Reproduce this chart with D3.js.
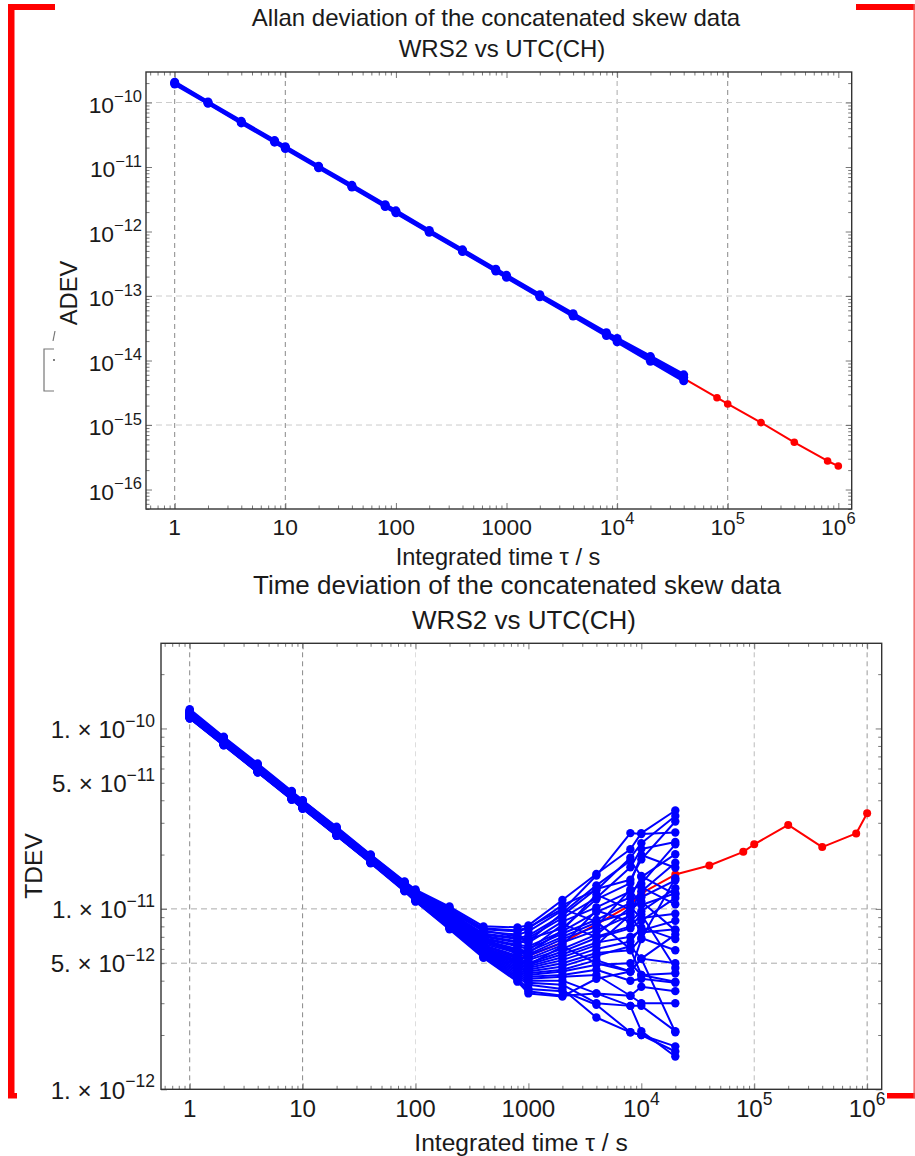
<!DOCTYPE html>
<html><head><meta charset="utf-8">
<script src="https://cdn.jsdelivr.net/npm/d3@7"></script>
<style>
body{margin:0;background:#fff}
svg{display:block}
text{font-family:"Liberation Sans",Arial,sans-serif;fill:#1a1a1a}
</style>
</head><body>
<svg id="c" width="915" height="1156"></svg>
<script>
// ---------------- DATA ----------------
const titleTop = "Allan deviation of the concatenated skew data";
const titleBottom = "Time deviation of the concatenated skew data";
const subtitle = "WRS2 vs UTC(CH)";
const xAxisLabel = "Integrated time \u03C4 / s";
const yLabelTop = "ADEV";
const yLabelBottom = "TDEV";

const xTicks = [1, 10, 100, 1000, 1e4, 1e5, 1e6];
const xTickLabels = ["1", "10", "100", "1000", "10|4", "10|5", "10|6"];
const yTicksTop = [1e-10, 1e-11, 1e-12, 1e-13, 1e-14, 1e-15, 1e-16];
const yTickLabelsTop = ["10|\u221210", "10|\u221211", "10|\u221212", "10|\u221213", "10|\u221214", "10|\u221215", "10|\u221216"];
const yTicksBottom = [1e-10, 5e-11, 1e-11, 5e-12, 1e-12];
const yTickLabelsBottom = ["1. \u00D7 10|\u221210", "5. \u00D7 10|\u221211", "1. \u00D7 10|\u221211", "5. \u00D7 10|\u221212", "1. \u00D7 10|\u221212"];

// averaging times
const tausShort = [1, 2, 4, 8, 10, 20, 40, 80, 100, 200, 400, 800, 1000, 2000, 4000, 8000, 10000, 20000, 40000];
const tausLong = [1, 2, 4, 8, 10, 20, 40, 80, 100, 200, 400, 800, 1000, 2000, 4000, 8000, 10000, 20000, 40000, 80000, 100000, 200000, 400000, 800000, 1000000];
const tausTdev = [1, 2, 4, 8, 10, 20, 40, 80, 100, 200, 400, 800, 1000, 2000, 4000, 8000, 10000, 20000];

// ADEV, individual segments (blue)
const adevBlue1 = [2.07e-10, 1.02e-10, 5.1e-11, 2.57e-11, 2.06e-11, 1.03e-11, 5.2e-12, 2.6e-12, 2.09e-12, 1.04e-12, 5.2e-13, 2.6e-13, 2.09e-13, 1.05e-13, 5.3e-14, 2.7e-14, 2.2e-14, 1.15e-14, 6.0e-15];
const adevBlue2 = [2.0e-10, 9.95e-11, 4.95e-11, 2.5e-11, 2.0e-11, 1.0e-11, 5.02e-12, 2.51e-12, 2.01e-12, 1.0e-12, 5.0e-13, 2.5e-13, 2.0e-13, 1.0e-13, 5.05e-14, 2.57e-14, 2.07e-14, 1.07e-14, 5.5e-15];
const adevBlue3 = [1.94e-10, 9.7e-11, 4.83e-11, 2.43e-11, 1.94e-11, 9.75e-12, 4.88e-12, 2.44e-12, 1.95e-12, 9.75e-13, 4.88e-13, 2.44e-13, 1.95e-13, 9.75e-14, 4.88e-14, 2.44e-14, 1.95e-14, 9.75e-15, 4.85e-15];
// ADEV, concatenated (red)
const adevRed = [2.0e-10, 9.95e-11, 4.95e-11, 2.5e-11, 2.0e-11, 1.0e-11, 5.0e-12, 2.5e-12, 2.0e-12, 1.0e-12, 5.0e-13, 2.5e-13, 2.0e-13, 1.0e-13, 5.0e-14, 2.55e-14, 2.05e-14, 1.05e-14, 5.3e-15, 2.65e-15, 2.12e-15, 1.09e-15, 5.4e-16, 2.77e-16, 2.31e-16];

// TDEV, individual segments (blue), in picoseconds
const tdevBluePs = [
  [128, 90, 64, 45, 40, 28.5, 20, 14.2, 12.8, 10.3, 8.0, 7.9, 8.1, 11.2, 15.6, 21.4, 26.3, 35.1],
  [126, 89, 63, 44.5, 39.8, 28, 19.8, 14, 12.5, 10, 7.7, 7.5, 7.8, 10.5, 12.7, 19.2, 23.1, 32.7],
  [125, 88, 62.5, 44, 39.5, 27.8, 19.6, 13.8, 12.4, 9.8, 7.5, 7.2, 7.5, 9.8, 15.3, 26.3, 26.0, 26.5],
  [124, 88, 62, 44, 39, 27.6, 19.5, 13.8, 12.3, 9.6, 7.3, 6.9, 7.1, 9.2, 12.9, 14.5, 18.8, 30.5],
  [123, 87, 61.5, 43.5, 39, 27.5, 19.4, 13.7, 12.3, 9.5, 7.2, 6.8, 6.9, 8.9, 11.5, 17, 21.5, 23.5],
  [122, 87, 61, 43.2, 38.6, 27.3, 19.3, 13.6, 12.2, 9.4, 7.1, 6.6, 6.5, 8.5, 10.2, 12.5, 13.8, 22.8],
  [122, 86, 61, 43, 38.5, 27.2, 19.2, 13.6, 12.1, 9.3, 7.0, 6.5, 6.8, 7.8, 11.3, 13.9, 19.9, 16.9],
  [121, 86, 60.5, 42.8, 38.3, 27.1, 19.1, 13.5, 12.1, 9.2, 6.9, 6.3, 6.2, 7.5, 9.6, 11.6, 15.0, 20.1],
  [121, 85.5, 60.5, 42.7, 38.2, 27, 19, 13.5, 12, 9.1, 6.8, 6.2, 6.0, 7.3, 8.7, 10.8, 12.5, 18.0],
  [120, 85, 60, 42.5, 38, 26.9, 19, 13.4, 12, 9.0, 6.7, 6.0, 5.8, 7.0, 8.4, 9.6, 11.6, 14.4],
  [120, 85, 60, 42.4, 37.9, 26.8, 18.9, 13.4, 11.9, 8.9, 6.6, 5.9, 5.6, 6.8, 8.0, 12.8, 10.5, 12.2],
  [119.5, 84.5, 59.8, 42.3, 37.8, 26.7, 18.9, 13.3, 11.9, 8.8, 6.5, 5.8, 5.5, 6.5, 7.6, 9.2, 13.2, 10.6],
  [119, 84, 59.5, 42.1, 37.6, 26.6, 18.8, 13.3, 11.8, 8.7, 6.4, 5.7, 5.3, 6.3, 9.8, 8.5, 9.7, 13.0],
  [119, 84, 59.3, 42, 37.5, 26.5, 18.7, 13.2, 11.8, 8.7, 6.3, 5.5, 5.2, 6.0, 7.2, 10.2, 8.9, 9.4],
  [118.5, 83.8, 59.2, 41.9, 37.4, 26.4, 18.7, 13.2, 11.7, 8.6, 6.2, 5.4, 5.0, 5.8, 6.9, 7.8, 8.6, 11.5],
  [118, 83.5, 59, 41.7, 37.3, 26.4, 18.6, 13.1, 11.7, 8.5, 6.1, 5.3, 4.9, 5.6, 6.5, 7.0, 7.6, 8.6],
  [118, 83.3, 58.9, 41.6, 37.2, 26.3, 18.6, 13.1, 11.6, 8.5, 6.0, 5.2, 4.8, 5.4, 6.3, 9.3, 7.4, 7.7],
  [117.5, 83, 58.7, 41.5, 37.1, 26.2, 18.5, 13, 11.6, 8.4, 5.95, 5.1, 4.7, 5.2, 6.0, 6.6, 7.9, 6.8],
  [117, 82.8, 58.5, 41.4, 37, 26.1, 18.5, 13, 11.5, 8.3, 5.9, 5.0, 4.6, 5.0, 5.7, 5.9, 6.9, 5.9],
  [117, 82.6, 58.4, 41.3, 36.9, 26, 18.4, 12.9, 11.5, 8.3, 5.85, 4.9, 4.5, 4.8, 5.5, 6.2, 5.3, 7.2],
  [116.5, 82.4, 58.2, 41.2, 36.8, 26, 18.4, 12.9, 11.4, 8.2, 5.8, 4.8, 4.4, 4.6, 5.2, 4.5, 5.3, 5.0],
  [116, 82.2, 58.1, 41.1, 36.7, 25.9, 18.3, 12.9, 11.4, 8.2, 5.75, 4.7, 4.3, 4.5, 4.9, 5.0, 4.3, 4.4],
  [116, 82, 58, 41, 36.6, 25.8, 18.3, 12.8, 11.3, 8.1, 5.7, 4.6, 4.2, 4.3, 4.6, 4.0, 4.1, 3.9],
  [115.5, 81.8, 57.8, 40.9, 36.5, 25.8, 18.2, 12.8, 11.3, 8.1, 5.65, 4.5, 4.1, 4.2, 4.3, 3.3, 3.7, 3.5],
  [115, 81.6, 57.7, 40.8, 36.4, 25.7, 18.2, 12.7, 11.2, 8.0, 5.6, 4.4, 4.0, 4.0, 3.4, 3.3, 3.0, 3.0],
  [115, 81.4, 57.5, 40.7, 36.3, 25.6, 18.1, 12.7, 11.2, 8.0, 5.55, 4.3, 3.9, 3.8, 3.0, 2.9, 2.9, 2.1],
  [114.5, 81.2, 57.4, 40.6, 36.2, 25.6, 18.1, 12.6, 11.1, 7.9, 5.5, 4.2, 3.8, 3.6, 2.5, 2.07, 2.0, 1.73],
  [114, 81, 57.3, 40.5, 36.1, 25.5, 18, 12.6, 11.1, 7.9, 5.45, 4.1, 3.6, 3.5, 2.94, 2.07, 2.0, 1.62],
  [114, 80.8, 57.2, 40.4, 36, 25.4, 18, 12.6, 11, 7.8, 5.4, 4.0, 3.5, 3.3, 3.4, 2.9, 2.1, 1.52],
  [113.5, 80.6, 57, 40.3, 35.9, 25.4, 17.9, 12.5, 11, 7.7, 5.35, 3.95, 3.4, 3.27, 4.1, 4.5, 5.3, 2.07],
  [124, 87.5, 62, 43.8, 39.2, 27.7, 19.5, 13.8, 12.3, 9.7, 7.6, 7.0, 6.6, 9.5, 13.5, 18.5, 15.2, 12.0],
  [121, 86, 60.8, 43, 38.4, 27.2, 19.2, 13.6, 12.1, 9.1, 6.9, 5.6, 5.9, 8.2, 7.0, 8.0, 9.3, 4.7],
  [119, 84, 59.5, 42, 37.6, 26.6, 18.8, 13.2, 11.7, 8.6, 6.2, 5.0, 5.7, 7.6, 12.0, 9.9, 11.0, 7.6],
  [117, 82.8, 58.5, 41.4, 37, 26.1, 18.4, 12.9, 11.4, 8.2, 5.8, 5.2, 4.9, 6.2, 5.0, 4.5, 6.8, 14.8],
  [126, 89, 63, 44.6, 39.9, 28.2, 19.9, 14.1, 12.6, 10.1, 7.8, 7.6, 7.9, 10.0, 8.5, 6.0, 4.3, 3.95]
];
// TDEV, concatenated (red), in picoseconds
const tdevRedPs = [120, 85, 60, 42.5, 38, 27, 19, 13.5, 12, 8.8, 6.3, 5.3, 5.5, 6.5, 8.2, 10.5, 12.2, 15.5, 17.4, 20.7, 22.8, 29.2, 22.0, 26.2, 33.9];

// ---------------- DRAWING ----------------
const svg = d3.select("#c");
const BLUE = "#0000ff", RED = "#ff0000";

function labelText(sel, str, baseSize, supSize, supRaise) {
  const parts = str.split("|");
  sel.append("tspan").text(parts[0]).attr("font-size", baseSize);
  if (parts.length > 1) {
    sel.append("tspan").text(parts[1]).attr("font-size", supSize).attr("dy", -supRaise);
  }
}

function drawPanel(p) {
  const g = svg.append("g");
  const x = d3.scaleLog().domain(p.xDomain).range([p.left, p.right]);
  const y = d3.scaleLog().domain(p.yDomain).range([p.bottom, p.top]);

  // grid lines
  p.vGrid.forEach(v => {
    g.append("line").attr("x1", x(v.v)).attr("x2", x(v.v)).attr("y1", p.top).attr("y2", p.bottom)
      .attr("stroke", v.c).attr("stroke-width", 1).attr("stroke-dasharray", "5,4");
  });
  p.hGrid.forEach(v => {
    g.append("line").attr("y1", y(v.v)).attr("y2", y(v.v)).attr("x1", p.left).attr("x2", p.right)
      .attr("stroke", v.c).attr("stroke-width", 1).attr("stroke-dasharray", "6,4");
  });

  // minor / major ticks on all four sides via d3 axes
  const xMinor = [], yMinor = [];
  for (let e = -1; e <= 7; e++) for (let k = 2; k <= 9; k++) {
    const v = k * Math.pow(10, e);
    if (v > p.xDomain[0] && v < p.xDomain[1]) xMinor.push(v);
  }
  for (let e = -17; e <= -9; e++) for (let k = 2; k <= 9; k++) {
    const v = k * Math.pow(10, e);
    if (v > p.yDomain[0] && v < p.yDomain[1]) yMinor.push(v);
  }
  const xMajor = xTicks.filter(v => v > p.xDomain[0] && v < p.xDomain[1]);
  const yMajor = [];
  for (let e = -17; e <= -9; e++) { const v = Math.pow(10, e); if (v >= p.yDomain[0]*0.999 && v < p.yDomain[1]) yMajor.push(v); }

  function tickAxis(axisFn, scale, values, size, transform) {
    const a = axisFn(scale).tickValues(values).tickSize(size).tickFormat("");
    const ag = g.append("g").attr("transform", transform).call(a);
    ag.select(".domain").remove();
    ag.selectAll("line").attr("stroke", "#555").attr("stroke-width", 0.8);
  }
  tickAxis(d3.axisTop, x, xMajor, 6, `translate(0,${p.bottom})`);
  tickAxis(d3.axisTop, x, xMinor, 3.5, `translate(0,${p.bottom})`);
  tickAxis(d3.axisBottom, x, xMajor, 6, `translate(0,${p.top})`);
  tickAxis(d3.axisBottom, x, xMinor, 3.5, `translate(0,${p.top})`);
  tickAxis(d3.axisRight, y, yMajor, 6, `translate(${p.left},0)`);
  tickAxis(d3.axisRight, y, yMinor, 3.5, `translate(${p.left},0)`);
  tickAxis(d3.axisLeft, y, yMajor, 6, `translate(${p.right},0)`);
  tickAxis(d3.axisLeft, y, yMinor, 3.5, `translate(${p.right},0)`);

  // data
  const line = d3.line().x(d => x(d[0])).y(d => y(d[1]));
  const plotSeries = (taus, vals, color, width, r) => {
    const pts = taus.map((t, i) => [t, vals[i]]);
    g.append("path").datum(pts).attr("d", line).attr("fill", "none")
      .attr("stroke", color).attr("stroke-width", width).attr("stroke-linejoin", "round");
    g.append("g").selectAll("circle").data(pts).join("circle")
      .attr("cx", d => x(d[0])).attr("cy", d => y(d[1])).attr("r", r).attr("fill", color);
  };
  p.series.forEach(s => plotSeries(s.taus, s.vals, s.color, s.width, s.r));

  // frame
  g.append("rect").attr("x", p.left).attr("y", p.top).attr("width", p.right - p.left).attr("height", p.bottom - p.top)
    .attr("fill", "none").attr("stroke", "#333").attr("stroke-width", 1.4);

  // x tick labels
  xTicks.forEach((v, i) => {
    const t = g.append("text").attr("x", x(v)).attr("y", p.xLabelY).attr("text-anchor", "middle");
    labelText(t, xTickLabels[i], p.tickFont, p.supFont, p.tickFont * 0.48);
  });
  // y tick labels
  p.yTicks.forEach((v, i) => {
    const t = g.append("text").attr("x", p.yLabelX).attr("y", y(v) + p.yLabelDy).attr("text-anchor", "end");
    labelText(t, p.yTickLabels[i], p.tickFont, p.supFont, p.tickFont * 0.46);
  });

  // titles and axis labels
  g.append("text").attr("x", p.titleX).attr("y", p.titleY).attr("text-anchor", "middle")
    .attr("font-size", p.titleFont).text(p.title);
  g.append("text").attr("x", p.subX).attr("y", p.subY).attr("text-anchor", "middle")
    .attr("font-size", p.titleFont).text(subtitle);
  g.append("text").attr("x", p.xTitleX).attr("y", p.xTitleY).attr("text-anchor", "middle")
    .attr("font-size", p.axisFont).text(xAxisLabel);
  g.append("text").attr("transform", `translate(${p.yTitleX},${p.yTitleY}) rotate(-90)`)
    .attr("text-anchor", "middle").attr("font-size", p.axisFont).text(p.yTitle);
}

// Top panel: ADEV
drawPanel({
  left: 146, right: 851.7, top: 72, bottom: 509,
  xDomain: [Math.pow(10, -0.2595), Math.pow(10, 6.121)],
  yDomain: [Math.pow(10, -16.302), Math.pow(10, -9.527)],
  vGrid: [{v: 1, c: "#888"}, {v: 10, c: "#888"}, {v: 1e4, c: "#aaa"}, {v: 1e5, c: "#888"}],
  hGrid: [{v: 1e-10, c: "#ccc"}, {v: 1e-13, c: "#ccc"}, {v: 1e-15, c: "#ccc"}],
  yTicks: yTicksTop, yTickLabels: yTickLabelsTop,
  tickFont: 22.8, supFont: 16.5, titleFont: 24, axisFont: 23.6,
  xLabelY: 535, yLabelX: 142, yLabelDy: 10,
  title: titleTop, titleX: 496, titleY: 26, subX: 502, subY: 57,
  xTitleX: 498, xTitleY: 565, yTitle: yLabelTop, yTitleX: 77, yTitleY: 293,
  series: [
    {taus: tausLong, vals: adevRed, color: RED, width: 2, r: 3.8},
    {taus: tausShort, vals: adevBlue1, color: BLUE, width: 3.5, r: 4.5},
    {taus: tausShort, vals: adevBlue2, color: BLUE, width: 3.5, r: 4.5},
    {taus: tausShort, vals: adevBlue3, color: BLUE, width: 3.5, r: 4.5}
  ]
});

// Bottom panel: TDEV
drawPanel({
  left: 161, right: 881.7, top: 643.3, bottom: 1089.3,
  xDomain: [Math.pow(10, -0.2542), Math.pow(10, 6.129)],
  yDomain: [Math.pow(10, -12.0), Math.pow(10, -9.528)],
  vGrid: [{v: 1, c: "#888"}, {v: 10, c: "#888"}, {v: 100, c: "#ddd"}, {v: 1e5, c: "#bbb"}, {v: 1e6, c: "#999"}],
  hGrid: [{v: 1e-11, c: "#aaa"}, {v: 5e-12, c: "#aaa"}],
  yTicks: yTicksBottom, yTickLabels: yTickLabelsBottom,
  tickFont: 24.2, supFont: 17.5, titleFont: 26, axisFont: 24.6,
  xLabelY: 1117, yLabelX: 155, yLabelDy: 9.3,
  title: titleBottom, titleX: 517, titleY: 594, subX: 524, subY: 629,
  xTitleX: 521, xTitleY: 1151, yTitle: yLabelBottom, yTitleX: 42, yTitleY: 866,
  series: [{taus: tausLong, vals: tdevRedPs.map(v => v * 1e-12), color: RED, width: 2, r: 4}]
    .concat(tdevBluePs.map(s => ({taus: tausTdev, vals: s.map(v => v * 1e-12), color: BLUE, width: 2, r: 4.2})))
});

// small grey artefact left of ADEV label
svg.append("path").attr("d", "M54,349 L44,349 L44,391 L54,391").attr("fill", "none").attr("stroke", "#777").attr("stroke-width", 1.2);
svg.append("path").attr("d", "M53,341 L55,331").attr("stroke", "#777").attr("stroke-width", 1.2);
svg.append("circle").attr("cx", 54).attr("cy", 360).attr("r", 0.9).attr("fill", "#444");

// red crop-bracket marks
const br = svg.append("g").attr("fill", RED);
br.append("rect").attr("x", 8).attr("y", 4).attr("width", 6.5).attr("height", 1094);
br.append("rect").attr("x", 8).attr("y", 4).attr("width", 47).attr("height", 6);
br.append("rect").attr("x", 8).attr("y", 1093).attr("width", 9).attr("height", 5.5);
br.append("rect").attr("x", 856).attr("y", 4).attr("width", 59).attr("height", 6);
br.append("rect").attr("x", 887).attr("y", 1093).attr("width", 28).attr("height", 5.5);
br.append("rect").attr("x", 913.5).attr("y", 4).attr("width", 1.3).attr("height", 1094).attr("fill", "#ee5555");
</script>
</body></html>
